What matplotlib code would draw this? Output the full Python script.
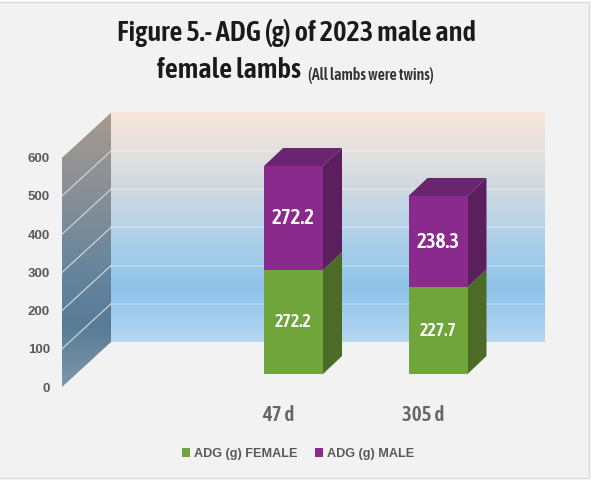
import numpy as np
import matplotlib
matplotlib.use('Agg')
import matplotlib.pyplot as plt
from matplotlib.colors import LinearSegmentedColormap
from matplotlib.patches import Polygon, Rectangle

categories = ['47 d', '305 d']
female = [272.2, 227.7]
male = [272.2, 238.3]
yticks = [0, 100, 200, 300, 400, 500, 600]

W, H = 591, 480
FONT = ['Asap Condensed', 'Liberation Sans', 'DejaVu Sans']
FONT_WIDE = ['Liberation Sans', 'DejaVu Sans']
BG = '#f2f2f2'
GREEN, GREEN_SIDE = '#70a53c', '#4c6b26'
PURPLE, PURPLE_SIDE, PURPLE_TOP = '#8a2a8c', '#5b1f5e', '#6a2470'
GREY = '#595959'

# scale of the picture: pixels per category step and per gram
px_x = 144.5
px_y = 0.382
x0_px, y0_px = 293.5, 374


def to_x(px):
    return (px - x0_px) / px_x


def to_y(py):
    return (y0_px - py) / px_y


# depth of the bars and of the floor, in data units
bar_w = 59 / px_x
bar_dx, bar_dy = 19 / px_x, 18 / px_y
front_x, front_y = to_x(62), to_y(387)
wall_dx, wall_dy = 49 / px_x, 45 / px_y
back_x = front_x + wall_dx
back_y = front_y + wall_dy
wall_right = to_x(544)

fig = plt.figure(figsize=(W / 100, H / 100), dpi=100, facecolor='white')
ax = fig.add_axes([0, 0, 1, 1])
ax.set_xlim(to_x(0), to_x(W))
ax.set_ylim(to_y(H), to_y(0))
ax.axis('off')

# picture frame
ax.add_patch(Rectangle((to_x(-2), to_y(478)), 591 / px_x, 476 / px_y, fc=BG, ec='#d9d9d9', lw=1, zorder=0))

# back wall
back_cmap = LinearSegmentedColormap.from_list('back', [
    (0.0, '#b5d8f1'), (0.22, '#8ec3ea'), (0.40, '#a6cde9'), (0.50, '#b6d3e8'),
    (0.68, '#d0d9e0'), (0.83, '#e3e1df'), (1.0, '#f8e6da')])
top_y = back_y + yticks[-1]
ax.imshow(np.linspace(0, 1, 256).reshape(-1, 1), cmap=back_cmap, origin='lower', aspect='auto',
          extent=[back_x, wall_right, back_y, top_y], zorder=1)

# side wall
side_cmap = LinearSegmentedColormap.from_list('side', [
    (0.0, '#7d97ac'), (0.22, '#587b97'), (0.42, '#66859d'), (0.7, '#888f96'), (1.0, '#a69a90')])
side = Polygon([(front_x, front_y), (back_x, back_y), (back_x, top_y), (front_x, front_y + yticks[-1])],
               closed=True, fc='none', ec='none', zorder=1)
ax.add_patch(side)
im = ax.imshow(np.linspace(0, 1, 256).reshape(-1, 1), cmap=side_cmap, origin='lower', aspect='auto',
               extent=[front_x, back_x, front_y, top_y], zorder=1)
im.set_clip_path(side)

ax.set_xlim(to_x(0), to_x(W))
ax.set_ylim(to_y(H), to_y(0))

# gridlines along both walls
for v in yticks[1:-1]:
    ax.plot([front_x, back_x], [front_y + v, back_y + v], color='#c9d3da', lw=0.9, zorder=2)
    ax.plot([back_x, wall_right], [back_y + v, back_y + v], color='#ffffff', alpha=0.3, lw=1.2, zorder=2)

# tick labels
for v in yticks:
    ax.text(to_x(50), front_y + v - 1.5 / px_y, str(v), ha='right', va='center', fontsize=9.5,
            fontweight='bold', family=FONT_WIDE, color=GREY, zorder=5)

# stacked bars with their depth faces
xs = np.arange(len(categories))
bars_f = ax.bar(xs, female, bar_w, color=GREEN, label='ADG (g) FEMALE', zorder=4)
bars_m = ax.bar(xs, male, bar_w, bottom=female, color=PURPLE, label='ADG (g) MALE', zorder=4)

for x, f, m in zip(xs, female, male):
    r = x + bar_w / 2
    l = x - bar_w / 2
    t = f + m
    ax.add_patch(Polygon([(r, 0), (r + bar_dx, bar_dy), (r + bar_dx, f + bar_dy), (r, f)],
                         closed=True, fc=GREEN_SIDE, ec='none', zorder=3))
    ax.add_patch(Polygon([(r, f), (r + bar_dx, f + bar_dy), (r + bar_dx, t + bar_dy), (r, t)],
                         closed=True, fc=PURPLE_SIDE, ec='none', zorder=3))
    ax.add_patch(Polygon([(l, t), (l + bar_dx, t + bar_dy), (r + bar_dx, t + bar_dy), (r, t)],
                         closed=True, fc=PURPLE_TOP, ec='none', zorder=3))
    ax.text(x, f / 2, f'{f:.1f}', ha='center', va='center', color='white', fontsize=13,
            fontweight=600, family=FONT, zorder=5)
    ax.text(x, f + m / 2, f'{m:.1f}', ha='center', va='center', color='white', fontsize=15,
            fontweight=600, family=FONT, zorder=5)
    ax.text(x - 15 / px_x, to_y(415), categories[x], ha='center', va='center', color='#666666', fontsize=15,
            fontweight=600, family=FONT, zorder=5)

leg = ax.legend(handles=[bars_f, bars_m], loc='center', bbox_to_anchor=(298 / W, 1 - 454 / H), ncol=2,
                frameon=False, handlelength=0.62, handleheight=0.62, handletextpad=0.32, columnspacing=1.4,
                prop={'family': FONT_WIDE, 'size': 9.1})
for t in leg.get_texts():
    t.set_color(GREY)
    t.set_fontweight('bold')

# title
ax.text(to_x(296), to_y(33), 'Figure 5.- ADG (g) of 2023 male and', ha='center', va='center', fontsize=20.5,
        fontweight=600, family=FONT, color='#1a1a1a', zorder=5)
ax.text(to_x(157), to_y(71), 'female lambs', ha='left', va='center', fontsize=20.5,
        fontweight=600, family=FONT, color='#1a1a1a', zorder=5)
ax.text(to_x(308), to_y(75), '(All lambs were twins)', ha='left', va='center', fontsize=11.4,
        fontweight=600, family=FONT, color='#333333', zorder=5)

fig.savefig('out.png', dpi=100)
